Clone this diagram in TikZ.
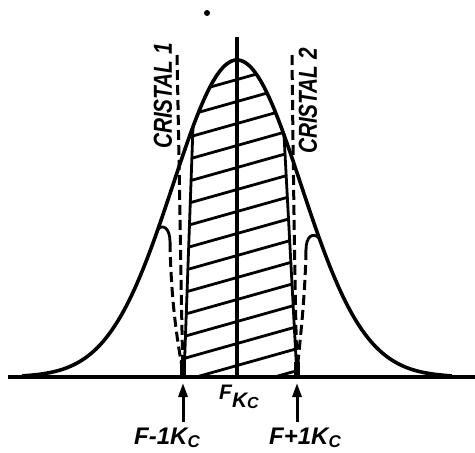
\documentclass[tikz,border=0pt]{standalone}
\usepackage{fontspec}
\setmainfont{Liberation Sans}
\usetikzlibrary{arrows.meta}
\begin{document}
\begin{tikzpicture}[x=1pt,y=-1pt,
  curve/.style={line width=3.6pt},
  hatchline/.style={line width=2.8pt},
  dashline/.style={line width=3pt, dash pattern=on 10pt off 5pt},
  hookline/.style={line width=2.8pt},
  lbl/.style={inner sep=0pt},
  uparrow/.style={line width=3pt, -{Triangle[length=14pt,width=9pt]}},
  blob/.style={line width=6pt},
]
\useasboundingbox (0,0) rectangle (475,453);
% hatched band
\begin{scope}
  \clip (196,40) -- (184,377) -- (297,377) -- (279,40) -- cycle;
  \clip plot[domain=20:455,samples=150] (\x,{377-317*exp(-((\x-237)/90.51)^2)}) -- cycle;
  \foreach \i in {0,...,17} \draw[hatchline] (150,{412-22*\i}) -- ++(160,-45);
\end{scope}
\coordinate (lbt) at (193,127);
\coordinate (lbb) at (184,377);
\coordinate (rbt) at (284,135);
\coordinate (rbb) at (297,377);
\draw[hatchline] (lbt) -- (lbb);
\draw[hatchline] (rbt) -- (rbb);
% bell curve
\draw[curve] plot[domain=22:452,samples=200] (\x,{377-317*exp(-((\x-237)/90.51)^2)});
% baseline
\coordinate (bl) at (8,377);
\coordinate (br) at (475,377);
\draw[curve] (bl) -- (br);
% centre line
\coordinate (ctop) at (237,37);
\coordinate (cbot) at (237,377);
\draw[curve] (ctop) -- (cbot);
% left dashed
\coordinate (l1t) at (177,55);
\coordinate (l1b) at (183,372);
\draw[dashline] (l1t) .. controls (180,200) and (181,300) .. (l1b);
\coordinate (lh0) at (158,229);
\coordinate (lh1) at (170,242);
\draw[hookline] (lh0) .. controls (163,224) and (170,228) .. (lh1);
\draw[dashline] (lh1) .. controls (171,300) and (177,340) .. (l1b);
% right dashed
\coordinate (r1t) at (292,55);
\coordinate (r1b) at (297,372);
\draw[dashline] (r1t) .. controls (293,150) and (295,300) .. (r1b);
\coordinate (rh0) at (319,238);
\coordinate (rh1) at (306,250);
\draw[hookline] (rh0) .. controls (313,232) and (306,236) .. (rh1);
\draw[dashline] (rh1) .. controls (305,300) and (300,340) .. (r1b);
% blobs at base
\coordinate (lb0) at (183,360);
\coordinate (lb1) at (183,377);
\coordinate (rb0) at (297,362);
\coordinate (rb1) at (297,377);
\draw[blob] (lb0) -- (lb1);
\draw[blob] (rb0) -- (rb1);
% arrows
\coordinate (a1s) at (183,422);
\coordinate (a1e) at (183,383);
\coordinate (a2s) at (297,422);
\coordinate (a2e) at (297,383);
\draw[uparrow] (a1s) -- (a1e);
\draw[uparrow] (a2s) -- (a2e);
% dot
\coordinate (dot) at (207,13);
\fill (dot) circle (3);
% labels
\node[lbl, rotate=90, font=\bfseries\itshape\fontsize{26}{26}\selectfont] (c1) at (163,96) {\scalebox{0.8}[1]{CRISTAL 1}};
\node[lbl, rotate=90, font=\bfseries\itshape\fontsize{26}{26}\selectfont] (c2) at (308,101) {\scalebox{0.8}[1]{CRISTAL 2}};
\node[lbl, anchor=base west, font=\bfseries\itshape\fontsize{21}{21}\selectfont] (fk) at (219,399) {F\raisebox{-8pt}{K\raisebox{-1pt}{\fontsize{16}{16}\selectfont C}}};
\node[lbl, anchor=base west, font=\bfseries\itshape\fontsize{24}{24}\selectfont] (fm) at (134,444) {F-1K\raisebox{-3pt}{\fontsize{17}{17}\selectfont C}};
\node[lbl, anchor=base west, font=\bfseries\itshape\fontsize{24}{24}\selectfont] (fp) at (269,444) {F+1K\raisebox{-3pt}{\fontsize{17}{17}\selectfont C}};
\end{tikzpicture}
\end{document}
